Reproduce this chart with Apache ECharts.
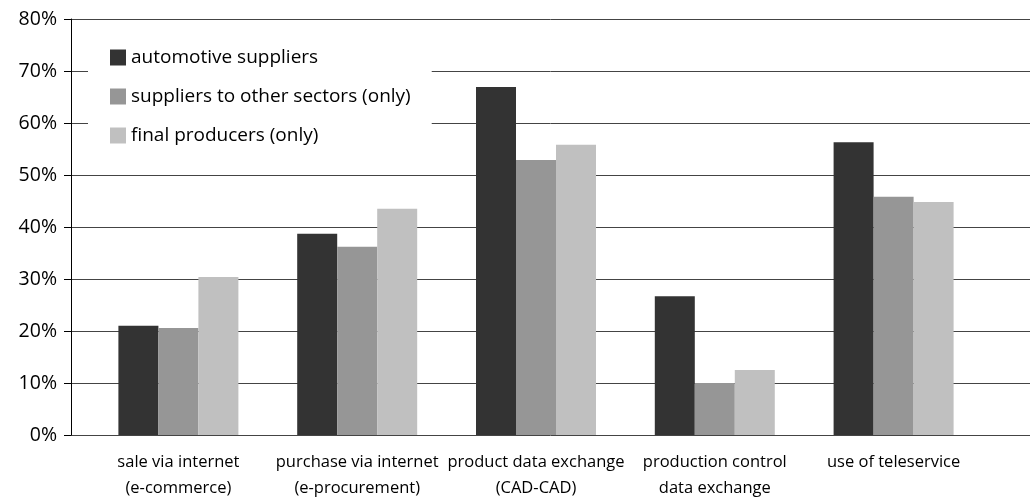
<!DOCTYPE html>
<html><head><meta charset="utf-8">
<script src="https://cdn.jsdelivr.net/npm/echarts@6/dist/echarts.min.js"></script>
<style>html,body{margin:0;padding:0;background:#fff}#c{width:1032px;height:498px}</style>
</head><body><div id="c"></div>
<script>
const categories = ['sale via internet\n(e-commerce)', 'purchase via internet\n(e-procurement)', 'product data exchange\n(CAD-CAD)', 'production control\ndata exchange', 'use of teleservice'];
const seriesNames = ['automotive suppliers', 'suppliers to other sectors (only)', 'final producers (only)'];
const automotive = [21.0, 38.7, 66.9, 26.7, 56.3];
const otherSectors = [20.6, 36.2, 52.9, 10.0, 45.8];
const finalProducers = [30.4, 43.5, 55.8, 12.5, 44.8];
const colors = ['#333333', '#969696', '#c0c0c0'];
const FONT = '"Open Sans", "DejaVu Sans", sans-serif';

const chart = echarts.init(document.getElementById('c'), null, {renderer: 'canvas'});
const values = [automotive, otherSectors, finalProducers];
chart.setOption({
  animation: false,
  backgroundColor: '#fff',
  grid: [
    {left: 71, right: 2, top: 19, bottom: 63, containLabel: false, outerBoundsMode: 'none'},
    {left: 89, width: 894, top: 19, bottom: 63, containLabel: false, outerBoundsMode: 'none'}
  ],
  xAxis: [
    {gridIndex: 0, type: 'category', data: categories, show: false},
    {gridIndex: 1, type: 'category', data: categories,
      axisLine: {show: false}, axisTick: {show: false},
      axisLabel: {interval: 0, color: '#000', fontFamily: FONT, fontSize: 16.5, lineHeight: 26, margin: 14}}
  ],
  yAxis: [
    {gridIndex: 0, type: 'value', min: 0, max: 80, interval: 10,
      axisLine: {show: true, lineStyle: {color: '#000', width: 1}},
      axisTick: {show: true, length: 7, lineStyle: {color: '#000'}},
      axisLabel: {formatter: '{value}%', color: '#000', fontFamily: FONT, fontSize: 19.5, margin: 14},
      splitLine: {show: true, lineStyle: {color: '#444', width: 1}}},
    {gridIndex: 1, type: 'value', min: 0, max: 80, show: false, splitLine: {show: false}}
  ],
  legend: {
    orient: 'vertical', left: 88, top: 34,
    padding: [14, 21, 14, 22],
    backgroundColor: '#fff',
    itemWidth: 16, itemHeight: 16, itemGap: 20,
    icon: 'rect',
    textStyle: {color: '#000', fontFamily: FONT, fontSize: 19},
    data: seriesNames
  },
  series: seriesNames.map((n, i) => ({
    name: n, type: 'bar', xAxisIndex: 1, yAxisIndex: 1,
    data: values[i], barWidth: 40, barGap: '0%',
    itemStyle: {color: colors[i]}
  }))
});
</script></body></html>
